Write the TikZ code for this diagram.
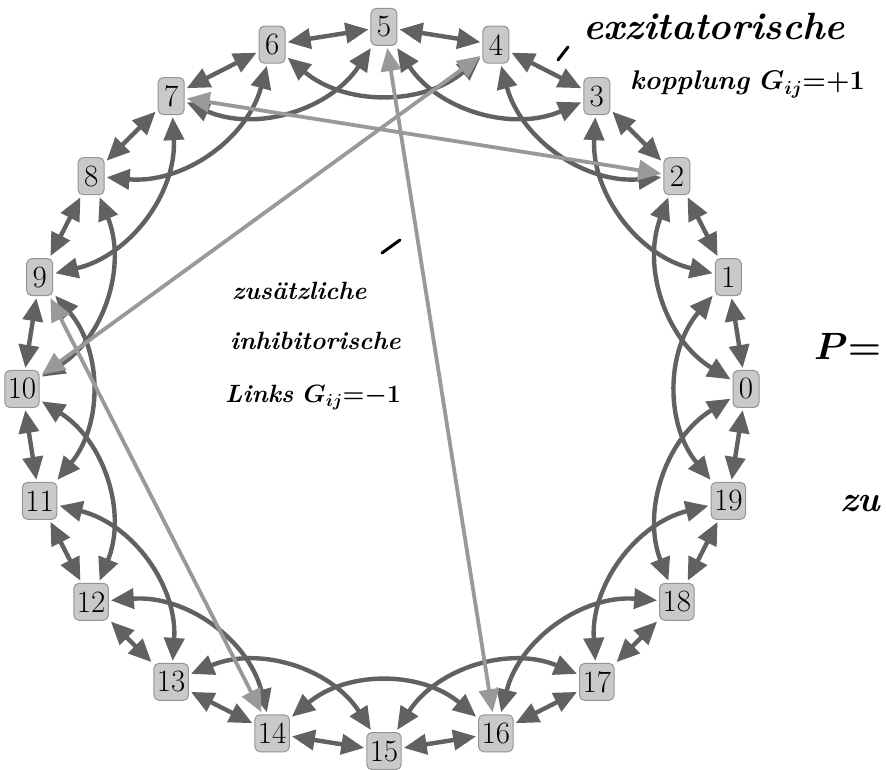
\documentclass[tikz,border=0pt]{standalone}
\usepackage{fix-cm}
\usepackage{amsmath}
\usepackage{fontspec}
\usepackage{xcolor}
\usepackage{tikz}
\usetikzlibrary{arrows.meta}

\definecolor{edgedark}{gray}{0.38}
\definecolor{edgelight}{gray}{0.6}
\definecolor{nodefill}{gray}{0.79}
\definecolor{nodeline}{gray}{0.58}

\begin{document}
\begin{tikzpicture}[
        x=1pt, y=1pt,
        netnode/.style={rectangle, draw=nodeline, line width=1pt, fill=nodefill, rounded corners=5pt, minimum width=26pt, minimum height=37pt, inner xsep=3pt, inner ysep=2pt, outer sep=2.5pt, font=\fontsize{31}{33}\selectfont},
        link/.style={{Triangle[length=23pt,width=20pt]}-{Triangle[length=23pt,width=20pt]}, line width=4.4pt, draw=edgedark},
        extra/.style={link, draw=edgelight, line width=3.8pt},
        hand/.style={font=\bfseries\itshape\fontsize{#1}{#1}\selectfont, anchor=base west, inner sep=0pt},
        penstroke/.style={line width=3pt, line cap=round}
    ]
        \useasboundingbox (-384,-381) rectangle (502,389);
        % Nodes
        \foreach \i in {0,...,19}
            \node[netnode] (n\i) at (\i*18:362) {\i};

        % Paths
        \foreach \i in {0,...,19} {
            \pgfmathtruncatemacro{\nxt}{mod(\i+1,20)}
            \pgfmathtruncatemacro{\skp}{mod(\i+2,20)}
            \draw[link] (n\i) -- (n\nxt);
            \draw[link] (n\i) to[bend left=40] (n\skp);
        }
        \draw[extra] (n7) -- (n2);
        \draw[extra] (n10) -- (n4);
        \draw[extra] (n5) -- (n16);
        \draw[extra] (n9) -- (n14);

        % Notes
        \node[hand=38] (excit) at (199,349) {exzitatorische};
        \node[hand=27] (coupl) at (246,299) {kopplung $\boldsymbol{G_{ij}{=}{+}1}$};
        \node[hand=25] (inhiba) at (-152,89) {zusätzliche};
        \node[hand=25] (inhibb) at (-154,39) {inhibitorische};
        \node[hand=25] (inhibc) at (-159,-14) {Links $\boldsymbol{G_{ij}{=}{-}1}$};
        \node[hand=38] (pvar) at (430,29) {$\boldsymbol{P{=}}$};
        \node[hand=36] (zu) at (456,-123) {zu};
        \draw[penstroke] (174,329) -- (184,342);
        \draw[penstroke] (-2,136) -- (16,149);
    \end{tikzpicture}
\end{document}
